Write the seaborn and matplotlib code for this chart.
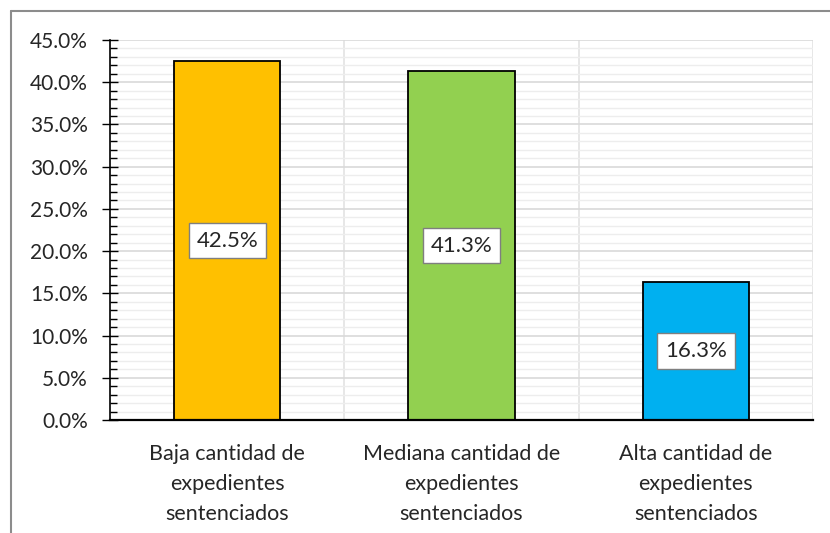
import matplotlib
matplotlib.use("Agg")
import matplotlib.pyplot as plt
import seaborn as sns
import pandas as pd
import numpy as np
from matplotlib.ticker import MultipleLocator, PercentFormatter
from matplotlib.lines import Line2D

categories = ["Baja cantidad de\nexpedientes\nsentenciados",
              "Mediana cantidad de\nexpedientes\nsentenciados",
              "Alta cantidad de\nexpedientes\nsentenciados"]
values = [42.5, 41.3, 16.3]
colors = ["#FFC000", "#92D050", "#00B0F0"]
labels = ["42.5%", "41.3%", "16.3%"]

sns.set_style("white")
plt.rcParams['font.family'] = ['Lato', 'DejaVu Sans']

df = pd.DataFrame({"cat": categories, "val": values})

fig = plt.figure(figsize=(8.3, 5.33), dpi=100)
ax = fig.add_axes([110/830, 1 - 420/533, (813-110)/830, (420-40)/533])

sns.barplot(data=df, x="cat", y="val", hue="cat", palette=colors, legend=False,
            width=0.455, edgecolor="black", linewidth=1.3, ax=ax, zorder=3, saturation=1)

ax.set_ylim(0, 45)
ax.set_xlim(-0.5, 2.5)
ax.yaxis.set_major_locator(MultipleLocator(5))
ax.yaxis.set_minor_locator(MultipleLocator(1))
ax.yaxis.set_major_formatter(PercentFormatter(decimals=1))
ax.grid(which="major", axis="y", color="#D9D9D9", linewidth=1.2, zorder=0)
ax.grid(which="minor", axis="y", color="#EDEDED", linewidth=1.0, zorder=0)
for xb in [0.5, 1.5, 2.5]:
    ax.axvline(xb, color="#E3E3E3", linewidth=1.2, zorder=0)

for s in ["top", "right"]:
    ax.spines[s].set_visible(False)
ax.spines["left"].set_color("black")
ax.spines["left"].set_linewidth(1.2)
ax.spines["bottom"].set_color("black")
ax.spines["bottom"].set_linewidth(1.6)
ax.spines["left"].set_zorder(4)
ax.spines["bottom"].set_zorder(4)

ax.tick_params(axis="y", which="major", direction="inout", length=12, width=1, color="black",
               labelsize=15, pad=10, left=True)
ax.tick_params(axis="y", which="minor", direction="in", length=5, width=1, color="black", left=True)
ax.tick_params(axis="x", length=0, labelsize=15.5, pad=17)
for t in ax.get_xticklabels():
    t.set_linespacing(1.64)
ax.set_xlabel("")
ax.set_ylabel("")

for i, (v, lab) in enumerate(zip(values, labels)):
    ax.text(i, v / 2, lab, ha="center", va="center", fontsize=16, zorder=5,
            bbox=dict(boxstyle="square,pad=0.35", facecolor="white", edgecolor="#7F7F7F", linewidth=1))

# outer chart border (left and top visible)
fig.add_artist(Line2D([11/830, 11/830], [0, 1 - 11/533], color="#8C8C8C", linewidth=1.5, transform=fig.transFigure))
fig.add_artist(Line2D([11/830, 1], [1 - 11/533, 1 - 11/533], color="#8C8C8C", linewidth=1.5, transform=fig.transFigure))

fig.savefig("out.png", dpi=100)
